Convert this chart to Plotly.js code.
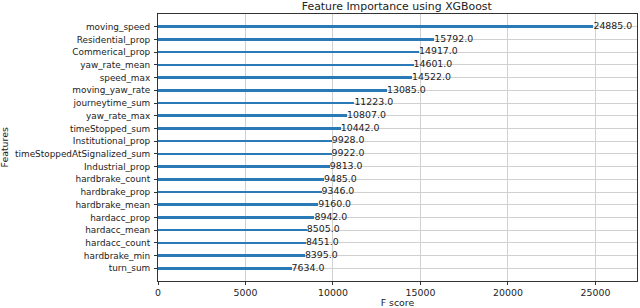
<!DOCTYPE html>
<html><head><meta charset="utf-8">
<script src="https://cdn.plot.ly/plotly-3.0.1.min.js"></script>
<style>html,body{margin:0;padding:0;background:#fff}#c{width:640px;height:308px}</style>
</head><body><div id="c"></div>
<script>
const features = ["moving_speed","Residential_prop","Commerical_prop","yaw_rate_mean","speed_max","moving_yaw_rate","journeytime_sum","yaw_rate_max","timeStopped_sum","Institutional_prop","timeStoppedAtSignalized_sum","Industrial_prop","hardbrake_count","hardbrake_prop","hardbrake_mean","hardacc_prop","hardacc_mean","hardacc_count","hardbrake_min","turn_sum"];
const fscores = [24885,15792,14917,14601,14522,13085,11223,10807,10442,9928,9922,9813,9485,9346,9160,8942,8505,8451,8395,7634];
const xTicks = [0,5000,10000,15000,20000,25000];

const cats = features.slice().reverse();
const vals = fscores.slice().reverse();
const labels = vals.map(v => v.toFixed(1));
const font = {family: "DejaVu Sans", size: 9.4, color: "#222"};
const yfont = {family: "DejaVu Sans", size: 8.9, color: "#222"};

const traces = [
  {type: "bar", orientation: "h", y: cats, x: vals, width: 0.2,
   marker: {color: "#2a7ab8", line: {width: 0}}, hoverinfo: "none"},
  {type: "scatter", mode: "text", y: cats, x: vals, text: labels,
   textposition: "middle right", textfont: font, hoverinfo: "none", cliponaxis: false}
];

const layout = {
  width: 640, height: 308,
  margin: {l: 158, r: 3, t: 14, b: 27},
  showlegend: false,
  paper_bgcolor: "#fff", plot_bgcolor: "#fff",
  font: font,
  title: {text: "Feature Importance using XGBoost", font: {family: "DejaVu Sans", size: 10.9, color: "#222"}, x: 0.62, xanchor: "center", y: 0.993, yanchor: "top"},
  xaxis: {range: [0, 27373.5], tickvals: xTicks, ticktext: xTicks.map(String),
    showgrid: true, gridcolor: "#d0d0d0", gridwidth: 1, zeroline: false,
    showline: true, linecolor: "#333", linewidth: 1, mirror: true,
    ticks: "outside", ticklen: 3, tickcolor: "#333",
    tickfont: font,
    title: {text: "F score", font: font, standoff: 2}},
  yaxis: {type: "category", categoryorder: "array", categoryarray: cats, range: [-1, 20],
    showgrid: true, gridcolor: "#d0d0d0", gridwidth: 1, zeroline: false,
    showline: true, linecolor: "#333", linewidth: 1, mirror: true,
    ticks: "outside", ticklen: 3, tickcolor: "#333",
    tickfont: yfont, ticklabelstandoff: 2},
  annotations: [{text: "Features", xref: "paper", yref: "paper", x: -0.3215, y: 0.5,
    xanchor: "center", yanchor: "middle", textangle: -90, showarrow: false, font: font}],
  bargap: 0
};
Plotly.newPlot("c", traces, layout, {staticPlot: true});
</script></body></html>
